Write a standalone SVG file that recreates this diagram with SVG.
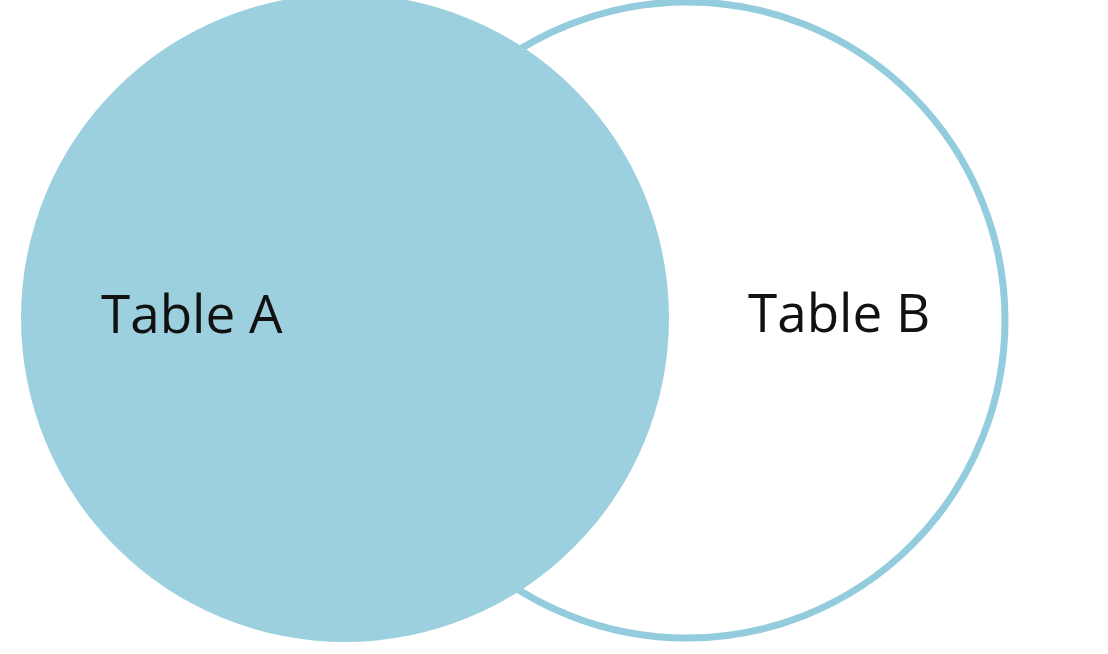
<svg xmlns="http://www.w3.org/2000/svg" width="1108" height="654" viewBox="0 0 1108 654">
<style>
.lbl{font-family:"Open Sans","Liberation Sans",sans-serif;font-size:53px;fill:#111}
</style>
<rect width="1108" height="654" fill="#ffffff"/>
<g id="tableB">
<circle cx="687" cy="320" r="318" fill="#ffffff" stroke="#93CCDC" stroke-width="7"/>
</g>
<g id="tableA">
<circle cx="345" cy="318" r="324" fill="#9ACEDE" fill-opacity="0.97"/>
</g>
<g id="connectors"></g>
<text class="lbl" x="101" y="333">Table A</text>
<text class="lbl" x="748" y="332">Table B</text>
</svg>
